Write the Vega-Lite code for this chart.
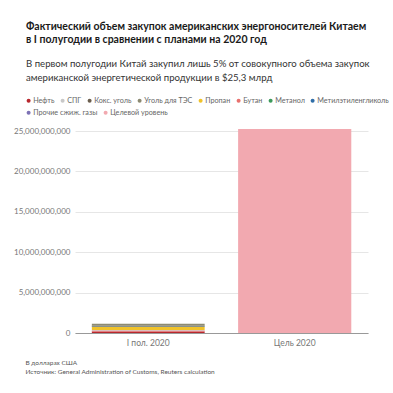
{
  "$schema": "https://vega.github.io/schema/vega-lite/v6.json",
  "width": 293,
  "height": 206,
  "autosize": {"type": "none"},
  "padding": {"left": 75, "top": 127, "right": 25, "bottom": 60},
  "background": "white",
  "title": {
    "text": ["Фактический объем закупок американских энергоносителей Китаем", "в I полугодии в сравнении с планами на 2020 год"],
    "subtitle": ["В первом полугодии Китай закупил лишь 5% от совокупного объема закупок", "американской энергетической продукции в $25,3 млрд"],
    "anchor": "start",
    "frame": "group",
    "dx": -49,
    "offset": 14,
    "font": "Lato",
    "fontSize": 10.5,
    "fontWeight": "bold",
    "color": "#1a1a1a",
    "lineHeight": 13,
    "subtitleFont": "Lato",
    "subtitleFontSize": 9.6,
    "subtitleColor": "#333333",
    "subtitleLineHeight": 14,
    "subtitlePadding": 14
  },
  "data": {
    "values": [
      {"period": "I пол. 2020", "fuel": "Нефть", "value": 190000000, "ord": 1},
      {"period": "I пол. 2020", "fuel": "Бутан", "value": 120000000, "ord": 2},
      {"period": "I пол. 2020", "fuel": "СПГ", "value": 60000000, "ord": 3},
      {"period": "I пол. 2020", "fuel": "Пропан", "value": 380000000, "ord": 4},
      {"period": "I пол. 2020", "fuel": "Метанол", "value": 20000000, "ord": 5},
      {"period": "I пол. 2020", "fuel": "Метилэтиленгликоль", "value": 20000000, "ord": 6},
      {"period": "I пол. 2020", "fuel": "Прочие сжиж. газы", "value": 30000000, "ord": 7},
      {"period": "I пол. 2020", "fuel": "Кокс. уголь", "value": 80000000, "ord": 8},
      {"period": "I пол. 2020", "fuel": "Уголь для ТЭС", "value": 250000000, "ord": 9},
      {"period": "Цель 2020", "fuel": "Целевой уровень", "value": 25250000000, "ord": 10}
    ]
  },
  "encoding": {
    "x": {
      "field": "period",
      "type": "nominal",
      "sort": null,
      "scale": {"paddingInner": 0.23, "paddingOuter": 0.115},
      "axis": {
        "labelAngle": 0,
        "labelFont": "Lato",
        "labelFontSize": 8.5,
        "labelColor": "#777777",
        "labelPadding": 5,
        "ticks": false,
        "domainColor": "#999999",
        "domainWidth": 1.2,
        "title": ["В долларах США", "Источник: General Administration of Customs, Reuters calculation"],
        "titleFont": "Lato",
        "titleFontSize": 6.5,
        "titleFontWeight": "normal",
        "titleColor": "#555555",
        "titleAnchor": "start",
        "titleAlign": "left",
        "titleX": -50,
        "titleY": 31,
        "titleLineHeight": 9.5,
        "titleBaseline": "alphabetic"
      }
    },
    "y": {
      "field": "value",
      "type": "quantitative",
      "stack": "zero",
      "scale": {"domain": [0, 25500000000], "nice": false},
      "axis": {
        "values": [0, 5000000000, 10000000000, 15000000000, 20000000000, 25000000000],
        "format": ",d",
        "title": null,
        "domain": false,
        "ticks": false,
        "labelFont": "Lato",
        "labelFontSize": 8,
        "labelColor": "#777777",
        "labelPadding": 5,
        "gridColor": "#e6e6e6"
      }
    },
    "order": {"field": "ord", "type": "quantitative"}
  },
  "layer": [
    {
      "mark": {"type": "bar"},
      "encoding": {
        "color": {
          "field": "fuel",
          "type": "nominal",
          "scale": {
            "domain": ["Нефть", "СПГ", "Кокс. уголь", "Уголь для ТЭС", "Пропан", "Бутан", "Метанол", "Метилэтиленгликоль", "Прочие сжиж. газы", "Целевой уровень"],
            "range": ["#b8282e", "#c8c8c8", "#6b5e4e", "#8c8a72", "#f0c22a", "#e8716e", "#3d9a5c", "#2f6ea8", "#7d72b5", "#f2a9b0"]
          },
          "legend": {
            "values": ["Нефть", "СПГ", "Кокс. уголь", "Уголь для ТЭС", "Пропан", "Бутан", "Метанол", "Метилэтиленгликоль"],
            "orient": "none",
            "legendX": -50,
            "legendY": -30,
            "direction": "horizontal",
            "title": null,
            "symbolType": "circle",
            "symbolSize": 16,
            "labelFont": "Lato",
            "labelFontSize": 7.2,
            "labelColor": "#666666",
            "labelOffset": 1,
            "columnPadding": 4
          }
        }
      }
    },
    {
      "transform": [{"filter": "datum.fuel == 'Целевой уровень'"}],
      "mark": {"type": "bar"},
      "encoding": {
        "color": {
          "field": "fuel",
          "type": "nominal",
          "scale": {
            "domain": ["Прочие сжиж. газы", "Целевой уровень"],
            "range": ["#7d72b5", "#f2a9b0"]
          },
          "legend": {
            "orient": "none",
            "legendX": -50,
            "legendY": -18,
            "direction": "horizontal",
            "title": null,
            "symbolType": "circle",
            "symbolSize": 16,
            "labelFont": "Lato",
            "labelFontSize": 7.2,
            "labelColor": "#666666",
            "labelOffset": 1,
            "columnPadding": 4
          }
        }
      }
    }
  ],
  "resolve": {"scale": {"color": "independent"}, "legend": {"color": "independent"}},
  "config": {"view": {"stroke": null}}
}
